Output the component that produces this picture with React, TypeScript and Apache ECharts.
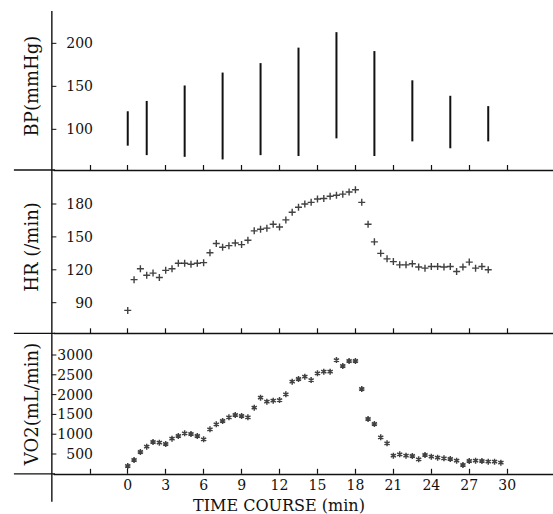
import React, { useEffect, useRef } from "react";
import * as echarts from "echarts";

const BP_TIME = [0, 1.5, 4.5, 7.5, 10.5, 13.5, 16.5, 19.5, 22.5, 25.5, 28.5];
const BP_LOW = [81, 70, 68, 65, 70, 69, 89.5, 69, 86, 78, 86];
const BP_HIGH = [121, 133, 151, 166, 177, 195, 213, 191, 157, 139, 127];

const HR_TIME = [
  0, 0.5, 1, 1.5, 2, 2.5, 3, 3.5, 4, 4.5, 5, 5.5, 6, 6.5, 7, 7.5, 8, 8.5, 9, 9.5,
  10, 10.5, 11, 11.5, 12, 12.5, 13, 13.5, 14, 14.5, 15, 15.5, 16, 16.5, 17, 17.5,
  18, 18.5, 19, 19.5, 20, 20.5, 21, 21.5, 22, 22.5, 23, 23.5, 24, 24.5, 25, 25.5,
  26, 26.5, 27, 27.5, 28, 28.5,
];
const HR_VALUES = [
  83, 111, 121, 115, 117, 113, 119.5, 121, 126, 126, 125, 126, 126.5, 135.5, 144,
  140.5, 142, 144.5, 143, 147, 155.5, 157, 158, 161.5, 159, 165.5, 172.5, 177, 180,
  181.5, 184.5, 185, 187, 188, 189, 191, 193, 181.5, 161.5, 145.5, 135, 130, 127.5,
  124.5, 124.5, 125.5, 122.5, 121.5, 123, 123, 122.5, 123, 118.5, 122.5, 127, 121.5,
  123, 120,
];

const VO2_TIME = [
  0, 0.5, 1, 1.5, 2, 2.5, 3, 3.5, 4, 4.5, 5, 5.5, 6, 6.5, 7, 7.5, 8, 8.5, 9, 9.5,
  10, 10.5, 11, 11.5, 12, 12.5, 13, 13.5, 14, 14.5, 15, 15.5, 16, 16.5, 17, 17.5,
  18, 18.5, 19, 19.5, 20, 20.5, 21, 21.5, 22, 22.5, 23, 23.5, 24, 24.5, 25, 25.5,
  26, 26.5, 27, 27.5, 28, 28.5, 29, 29.5,
];
const VO2_VALUES = [
  197, 348, 550, 685, 803, 786, 752, 887, 955, 1022, 1005, 955, 871, 1123, 1250,
  1333, 1427, 1485, 1460, 1427, 1669, 1922, 1821, 1846, 1863, 2007, 2326, 2394,
  2452, 2368, 2537, 2578, 2578, 2873, 2722, 2848, 2848, 2141, 1384, 1257, 922, 770,
  457, 492, 457, 449, 366, 475, 432, 407, 391, 374, 331, 222, 323, 331, 323, 306,
  306, 281,
];

const X_TICKS = [-3, 0, 3, 6, 9, 12, 15, 18, 21, 24, 27, 30];
const X_LABELS = [0, 3, 6, 9, 12, 15, 18, 21, 24, 27, 30];
const BP_TICKS = [100, 150, 200];
const HR_TICKS = [90, 120, 150, 180];
const VO2_TICKS = [500, 1000, 1500, 2000, 2500, 3000];

const INK = "#111";
const FONT = "DejaVu Serif";
const X_MIN = -5.83;
const X_MAX = 33.62;
const Y_RANGES: [number, number][] = [
  [52.7, 237.6],
  [62.1, 211],
  [0, 3548],
];

export default function App() {
  const ref = useRef<HTMLDivElement>(null);
  useEffect(() => {
    if (!ref.current) return;
    const chart = echarts.init(ref.current, null, { renderer: "svg" });
    const grids = [
      { left: 54, right: 0, top: 11, height: 159 },
      { left: 54, right: 0, top: 170, height: 163.3 },
      { left: 54, right: 0, top: 333.3, height: 140.5 },
    ];
    const xAxis = [0, 1, 2].map((i) => ({
      type: "value",
      gridIndex: i,
      min: X_MIN,
      max: X_MAX,
      axisLine: { show: true, onZero: false, lineStyle: { color: INK, width: 1.3 } },
      axisTick: {
        show: true,
        inside: true,
        length: 5,
        customValues: X_TICKS,
        lineStyle: { color: INK, width: 1.2 },
      },
      axisLabel: {
        show: i === 2,
        customValues: X_LABELS,
        margin: 4,
        color: INK,
        fontFamily: FONT,
        fontSize: 14,
        formatter: (v: number) => String(v),
      },
      splitLine: { show: false },
    }));
    const yCommon = (ticks: number[], gi: number) => ({
      type: "value",
      gridIndex: gi,
      min: Y_RANGES[gi][0],
      max: Y_RANGES[gi][1],
      axisLine: { show: false, onZero: false },
      axisTick: { show: false },
      axisLabel: {
        show: true,
        inside: true,
        align: "right",
        margin: 39,
        customValues: ticks,
        color: INK,
        fontFamily: FONT,
        fontSize: 14,
        formatter: (v: number) => String(v),
      },
      splitLine: { show: false },
    });
    const yAxis = [yCommon(BP_TICKS, 0), yCommon(HR_TICKS, 1), yCommon(VO2_TICKS, 2)];
    const bpData = BP_TIME.map((t, i) => [t, BP_LOW[i], BP_HIGH[i]]);
    const hrData = HR_TIME.map((t, i) => [t, HR_VALUES[i]]);
    const vo2Data = VO2_TIME.map((t, i) => [t, VO2_VALUES[i]]);

    chart.setOption({
      animation: false,
      grid: grids,
      xAxis,
      yAxis,
      series: [
        {
          type: "custom",
          xAxisIndex: 0,
          yAxisIndex: 0,
          data: bpData,
          encode: { x: 0, y: [1, 2] },
          renderItem: (params: any, api: any) => {
            const p1 = api.coord([api.value(0), api.value(1)]);
            const p2 = api.coord([api.value(0), api.value(2)]);
            return {
              type: "line",
              shape: { x1: p1[0], y1: p1[1], x2: p2[0], y2: p2[1] },
              style: { stroke: INK, lineWidth: 2 },
            };
          },
        },
        {
          type: "scatter",
          xAxisIndex: 1,
          yAxisIndex: 1,
          data: hrData,
          symbol: "path://M0,-1L0,1M-1,0L1,0",
          symbolSize: 7,
          symbolKeepAspect: true,
          itemStyle: { color: "rgba(0,0,0,0)", borderColor: INK, borderWidth: 1.4 },
        },
        {
          type: "scatter",
          xAxisIndex: 2,
          yAxisIndex: 2,
          data: vo2Data,
          symbol: "path://M0,-1L0,1M-0.866,-0.5L0.866,0.5M-0.866,0.5L0.866,-0.5",
          symbolSize: 6,
          symbolKeepAspect: true,
          itemStyle: { color: "rgba(0,0,0,0)", borderColor: INK, borderWidth: 1.5 },
        },
      ],
    });

    // vertical time axis at t = -6 min and the left stubs at t = -9 min,
    // placed through the library's own scales
    const px = (gi: number, x: number, y: number) =>
      chart.convertToPixel({ xAxisIndex: gi, yAxisIndex: gi }, [x, y]) as number[];
    const top = px(0, -6, Y_RANGES[0][1]);
    const bottom = px(2, -6, Y_RANGES[2][0]);
    const axX = top[0];
    const els: any[] = [
      {
        type: "rect",
        z: 100,
        shape: { x: axX - 0.7, y: top[1], width: 1.4, height: bottom[1] + 28 - top[1] },
        style: { fill: INK },
      },
    ];
    [0, 1, 2].forEach((gi) => {
      const a = px(gi, -9, Y_RANGES[gi][0]);
      const b = px(gi, X_MIN, Y_RANGES[gi][0]);
      els.push({
        type: "rect",
        z: 100,
        shape: { x: a[0], y: a[1] - 0.65, width: b[0] - a[0] + 1, height: 1.3 },
        style: { fill: INK },
      });
    });
    const tickSets: [number[], number][] = [
      [BP_TICKS, 0],
      [HR_TICKS, 1],
      [VO2_TICKS, 2],
    ];
    tickSets.forEach(([ticks, gi]) => {
      ticks.forEach((v) => {
        const p = px(gi, -6, v);
        els.push({
          type: "rect",
          z: 100,
          shape: { x: p[0], y: p[1] - 0.5, width: 4.5, height: 1 },
          style: { fill: INK },
        });
      });
    });
    const titleStyle = { fill: INK, fontFamily: FONT, fontSize: 18, align: "center", verticalAlign: "middle" };
    els.push(
      { type: "text", x: 31, y: 86, rotation: Math.PI / 2, style: { ...titleStyle, text: "BP(mmHg)" } },
      { type: "text", x: 31, y: 247, rotation: Math.PI / 2, style: { ...titleStyle, text: "HR (/min)" } },
      { type: "text", x: 31, y: 404, rotation: Math.PI / 2, style: { ...titleStyle, text: "VO2(mL/min)" } },
      {
        type: "text",
        x: 279,
        y: 505,
        style: { ...titleStyle, fontSize: 16, text: "TIME COURSE (min)" },
      }
    );
    chart.setOption({ graphic: els });
    return () => chart.dispose();
  }, []);
  return (
    <div
      ref={ref}
      style={{ position: "fixed", left: 0, top: 0, width: 553, height: 514, background: "#fff" }}
    />
  );
}
